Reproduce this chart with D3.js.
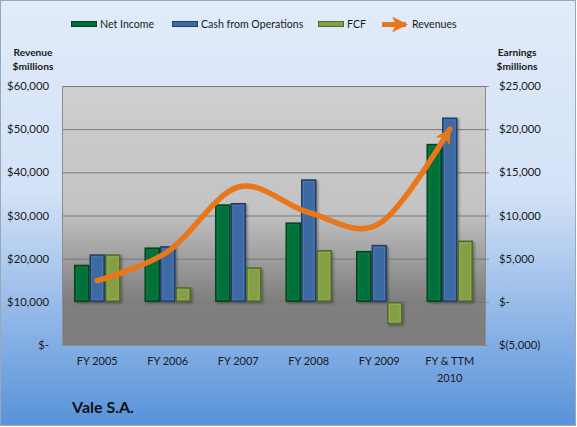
<!DOCTYPE html>
<html><head><meta charset="utf-8">
<script src="https://cdn.jsdelivr.net/npm/d3@7"></script>
<style>
html,body{margin:0;padding:0;background:#fff;}
svg{display:block;font-family:Lato,"Open Sans",sans-serif;}
</style></head>
<body>
<svg id="chart" width="577" height="427"></svg>
<script>
// ---- data ----
const categories = ["FY 2005","FY 2006","FY 2007","FY 2008","FY 2009","FY & TTM 2010"];
const netIncome  = [4300, 6300, 11300, 9200, 5900, 18300];
const cashOps    = [5500, 6450, 11450, 14200, 6600, 21350];
const fcf        = [5500, 1700, 4000, 6000, -2600, 7100];
const revenues   = [14900, 21600, 36600, 30700, 28100, 50000];
const leftTicks  = [0, 10000, 20000, 30000, 40000, 50000, 60000];
const rightTicks = [-5000, 0, 5000, 10000, 15000, 20000, 25000];
const seriesNames = ["Net Income","Cash from Operations","FCF","Revenues"];

const W = 577, H = 427;
const svg = d3.select("#chart");
const defs = svg.append("defs");

// background gradient
const bg = defs.append("linearGradient").attr("id","bg").attr("x1",0).attr("y1",0).attr("x2",0).attr("y2",1);
bg.append("stop").attr("offset","0%").attr("stop-color","#e1ebfa");
bg.append("stop").attr("offset","45%").attr("stop-color","#d3e2f7");
bg.append("stop").attr("offset","100%").attr("stop-color","#5892da");
const pg = defs.append("linearGradient").attr("id","pg").attr("x1",0).attr("y1",0).attr("x2",0).attr("y2",1);
pg.append("stop").attr("offset","0%").attr("stop-color","#cfcfcf");
pg.append("stop").attr("offset","48%").attr("stop-color","#c3c3c3");
pg.append("stop").attr("offset","82%").attr("stop-color","#808080");
pg.append("stop").attr("offset","100%").attr("stop-color","#7d7d7d");

const sh = defs.append("filter").attr("id","shadow").attr("x","-30%").attr("y","-10%").attr("width","160%").attr("height","130%");
sh.append("feDropShadow").attr("dx",1.5).attr("dy",1.5).attr("stdDeviation",1.2).attr("flood-color","#000").attr("flood-opacity",0.35);

const orange = "#e8761b";
defs.append("marker").attr("id","arrow").attr("markerUnits","userSpaceOnUse")
  .attr("viewBox","0 0 16 16").attr("refX",14).attr("refY",8)
  .attr("markerWidth",16).attr("markerHeight",16).attr("orient","auto")
  .append("path").attr("d","M0,0 L16,8 L0,16 L4,8 Z").attr("fill",orange);

svg.append("rect").attr("x",0.5).attr("y",0.5).attr("width",W-2).attr("height",H-2)
  .attr("fill","url(#bg)").attr("stroke","#9aa7b5").attr("stroke-width",1);

const plot = {l:62, r:485, t:86, b:345};
svg.append("rect").attr("x",plot.l).attr("y",plot.t).attr("width",plot.r-plot.l).attr("height",plot.b-plot.t)
  .attr("fill","url(#pg)");

const x0 = d3.scaleBand().domain(categories).range([plot.l, plot.r]).paddingInner(0.34).paddingOuter(0.17);
const keys = ["ni","cfo","fcf"];
const x1 = d3.scaleBand().domain(keys).range([0, x0.bandwidth()]);
const yL = d3.scaleLinear().domain([0,60000]).range([plot.b, plot.t]);
const yR = d3.scaleLinear().domain([-5000,25000]).range([plot.b, plot.t]);

// gridlines
svg.append("g").selectAll("line").data(leftTicks.filter(d=>d>0)).join("line")
  .attr("x1",plot.l).attr("x2",plot.r).attr("y1",d=>yL(d)+0.5).attr("y2",d=>yL(d)+0.5)
  .attr("stroke","#7a7a7a").attr("stroke-width",1);
// axis lines
svg.append("line").attr("x1",plot.l+0.5).attr("x2",plot.l+0.5).attr("y1",plot.t).attr("y2",plot.b).attr("stroke","#8c8c8c");
svg.append("line").attr("x1",plot.r+0.5).attr("x2",plot.r+0.5).attr("y1",plot.t).attr("y2",plot.b).attr("stroke","#8c8c8c");
svg.append("line").attr("x1",plot.l).attr("x2",plot.r).attr("y1",plot.b+0.5).attr("y2",plot.b+0.5).attr("stroke","#8c8c8c");

// axes
const fmt = v => v===0 ? "$-" : (v<0 ? "$(" + d3.format(",")(-v) + ")" : "$" + d3.format(",")(v));
const gL = svg.append("g").attr("transform",`translate(${plot.l},0)`)
  .call(d3.axisLeft(yL).tickValues(leftTicks).tickFormat(fmt).tickSize(0).tickPadding(13));
const gR = svg.append("g").attr("transform",`translate(${plot.r},0)`)
  .call(d3.axisRight(yR).tickValues(rightTicks).tickFormat(fmt).tickSize(4).tickPadding(10));
[gL,gR].forEach(g=>{
  g.select(".domain").remove();
  g.selectAll("text").attr("font-size",11.3).attr("fill","#1a1a1a").attr("font-family","Lato,'Open Sans',sans-serif");
  g.selectAll("line").attr("stroke","#8c8c8c");
});

// bars
const colors = {ni:{f:"#00703a",s:"#00451f",h:"#1a8a4c"}, cfo:{f:"#3e6aa3",s:"#233f66",h:"#5a86bd"}, fcf:{f:"#84a047",s:"#56692a",h:"#9cb85e"}};
const vals = {ni:netIncome, cfo:cashOps, fcf:fcf};
const bw = x1.bandwidth();
categories.forEach((c,i)=>{
  keys.forEach(k=>{
    const v = vals[k][i];
    const x = x0(c) + x1(k);
    const y = Math.min(yR(v), yR(0));
    const h = Math.abs(yR(v)-yR(0));
    const g = svg.append("g");
    g.append("rect").attr("x",x).attr("y",y).attr("width",bw).attr("height",h)
      .attr("fill",colors[k].s).attr("filter","url(#shadow)");
    g.append("rect").attr("x",x+1.5).attr("y",y+1.5).attr("width",Math.max(0,bw-3)).attr("height",Math.max(0,h-3))
      .attr("fill",colors[k].f);
    g.append("rect").attr("x",x+2.5).attr("y",y+2.5).attr("width",Math.max(0,bw-5)).attr("height",Math.max(0,h-5))
      .attr("fill","none").attr("stroke",colors[k].h).attr("stroke-width",0.8).attr("opacity",0.6);
  });
});

// revenue line
const line = d3.line().x((d,i)=>x0(categories[i])+x0.bandwidth()/2).y(d=>yL(d)).curve(d3.curveCardinal.tension(0));
svg.append("path").datum(revenues).attr("d",line).attr("fill","none")
  .attr("stroke",orange).attr("stroke-width",5.5).attr("stroke-linecap","round")
  .attr("marker-end","url(#arrow)");

// x labels
const xl = svg.append("g");
categories.forEach(c=>{
  const cx = x0(c)+x0.bandwidth()/2;
  const parts = c==="FY & TTM 2010" ? ["FY & TTM","2010"] : [c];
  const t = xl.append("text").attr("x",cx).attr("y",365).attr("text-anchor","middle")
    .attr("font-size",11).attr("fill","#1a1a1a");
  parts.forEach((p,j)=>t.append("tspan").attr("x",cx).attr("dy",j===0?0:17).text(p));
});

// axis titles
const at = svg.append("g").attr("font-size",10.2).attr("font-weight","bold").attr("fill","#1a1a1a").attr("text-anchor","middle");
at.append("text").attr("x",33).attr("y",56).text("Revenue");
at.append("text").attr("x",33).attr("y",70).text("$millions");
at.append("text").attr("x",517).attr("y",56).text("Earnings");
at.append("text").attr("x",517).attr("y",70).text("$millions");

// legend
const lg = svg.append("g");
const legItems = [
  {name:seriesNames[0], x:71, k:"ni"},
  {name:seriesNames[1], x:172, k:"cfo"},
  {name:seriesNames[2], x:318, k:"fcf"}
];
legItems.forEach(d=>{
  lg.append("rect").attr("x",d.x).attr("y",21).attr("width",26).attr("height",6).attr("fill",colors[d.k].s);
  lg.append("rect").attr("x",d.x+1).attr("y",22).attr("width",24).attr("height",4).attr("fill",colors[d.k].f);
  lg.append("text").attr("x",d.x+29).attr("y",28).attr("font-size",10.6).attr("fill","#1a1a1a").text(d.name);
});
lg.append("line").attr("x1",382).attr("x2",406).attr("y1",24.5).attr("y2",24.5)
  .attr("stroke",orange).attr("stroke-width",5).attr("marker-end","url(#arrow)");
lg.append("text").attr("x",412).attr("y",28).attr("font-size",10.6).attr("fill","#1a1a1a").text(seriesNames[3]);

// title
svg.append("text").attr("x",72).attr("y",413).attr("font-size",16).attr("font-weight","bold")
  .attr("fill","#111").text("Vale S.A.");
</script>
</body></html>
